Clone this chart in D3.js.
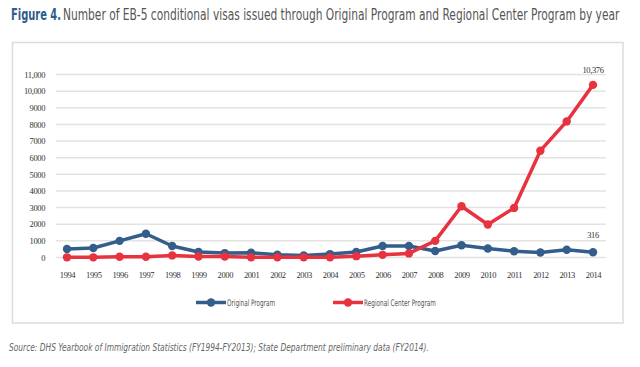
<!DOCTYPE html>
<html><head><meta charset="utf-8">
<script src="https://cdn.jsdelivr.net/npm/d3@7"></script>
<style>
body{margin:0;background:#fff;}
svg{display:block;}
</style></head>
<body>
<svg id="c" width="640" height="367"></svg>
<script>
const years = ["1994","1995","1996","1997","1998","1999","2000","2001","2002","2003","2004","2005","2006","2007","2008","2009","2010","2011","2012","2013","2014"];
const originalProgram = [510,570,1000,1430,690,330,265,285,165,120,205,330,690,690,390,740,540,380,305,465,316];
const regionalCenter = [10,10,45,45,125,60,60,10,10,10,10,80,160,245,1000,3080,1980,2980,6420,8180,10376];
const yTicks = [0,1000,2000,3000,4000,5000,6000,7000,8000,9000,10000,11000];
const yTickLabels = ["0","1000","2000","3000","4000","5000","6000","7000","8000","9000","10,000","11,000"];
const seriesNames = ["Original Program","Regional Center Program"];
const colors = ["#335d8a","#e8323f"];

const svg = d3.select("#c");
const narrow = "'Liberation Sans Narrow','DejaVu Sans Condensed',sans-serif";
const serif = "'Liberation Serif','DejaVu Serif',serif";

// place a text so that it spans a given width, by horizontal scaling
function fitText(sel, x0, y0, width){
  sel.attr("x",0).attr("y",0);
  const w = sel.node().getComputedTextLength();
  const s = width / w;
  sel.attr("transform",`translate(${x0},${y0}) scale(${s},1)`);
  return sel;
}

// title
fitText(svg.append("text").attr("font-family",narrow).attr("font-size",15)
  .attr("font-weight","bold").attr("fill","#2f5c8c").text("Figure 4."), 11, 20, 50);
fitText(svg.append("text").attr("font-family",narrow).attr("font-size",15).attr("fill","#555")
  .text("Number of EB-5 conditional visas issued through Original Program and Regional Center Program by year"), 63, 20, 557);

// box
svg.append("rect").attr("x",12.5).attr("y",42.5).attr("width",610.5).attr("height",280.5)
  .attr("fill","none").attr("stroke","#dcdcdc").attr("stroke-width",1.5);

const x = d3.scalePoint().domain(years).range([67,593]);
const y = d3.scaleLinear().domain([0,11000]).range([257.5,74.5]);

// grid
svg.append("g").selectAll("line").data(yTicks).join("line")
  .attr("x1",56).attr("x2",606).attr("y1",d=>y(d)).attr("y2",d=>y(d))
  .attr("stroke","#e3e3e3").attr("stroke-width",1.5);

// y axis labels
const yAxis = d3.axisLeft(y).tickValues(yTicks).tickSize(0).tickPadding(0)
  .tickFormat((d,i)=>yTickLabels[i]);
const ga = svg.append("g").attr("transform","translate(45,0)").call(yAxis);
ga.select(".domain").remove();
ga.selectAll("text").attr("font-family",serif).attr("font-size",8.5).attr("fill","#333")
  .attr("letter-spacing","-0.4").attr("dy","0.32em");

// x axis labels
const xAxis = d3.axisBottom(x).tickSize(0).tickPadding(0);
const gx = svg.append("g").attr("transform","translate(0,272)").call(xAxis);
gx.select(".domain").remove();
gx.selectAll("text").attr("font-family",serif).attr("font-size",8.5).attr("fill","#333")
  .attr("letter-spacing","-0.4");

const line = d3.line().x((d,i)=>x(years[i])).y(d=>y(d));
[originalProgram, regionalCenter].forEach((s,k)=>{
  const g = svg.append("g");
  g.append("path").datum(s).attr("d",line).attr("fill","none").attr("stroke",colors[k])
    .attr("stroke-width",3.5).attr("stroke-linejoin","round");
  g.selectAll("circle").data(s).join("circle").attr("cx",(d,i)=>x(years[i])).attr("cy",d=>y(d))
    .attr("r",4.2).attr("fill",colors[k]);
});

// value labels
svg.append("text").attr("x",x("2014")).attr("y",y(regionalCenter[20])-12).attr("text-anchor","middle")
  .attr("font-family",serif).attr("font-size",8.5).attr("letter-spacing","-0.4").attr("fill","#333")
  .text(d3.format(",")(regionalCenter[20]));
svg.append("text").attr("x",x("2014")).attr("y",y(originalProgram[20])-14).attr("text-anchor","middle")
  .attr("font-family",serif).attr("font-size",8.5).attr("letter-spacing","-0.4").attr("fill","#333")
  .text(d3.format(",")(originalProgram[20]));

// legend
const legX = [196,333];
const legW = [48,72];
seriesNames.forEach((n,k)=>{
  const g = svg.append("g").attr("transform",`translate(${legX[k]},302.5)`);
  g.append("line").attr("x1",0).attr("x2",30).attr("stroke",colors[k]).attr("stroke-width",3.5);
  g.append("circle").attr("cx",15).attr("r",4.2).attr("fill",colors[k]);
  fitText(g.append("text").attr("font-family",narrow).attr("font-size",9).attr("fill","#555").text(n), 31, 3, legW[k]);
});

// source
fitText(svg.append("text").attr("font-family",narrow).attr("font-style","italic")
  .attr("font-size",10.5).attr("fill","#666")
  .text("Source: DHS Yearbook of Immigration Statistics (FY1994-FY2013); State Department preliminary data (FY2014)."), 9, 351, 420);
</script>
</body></html>
